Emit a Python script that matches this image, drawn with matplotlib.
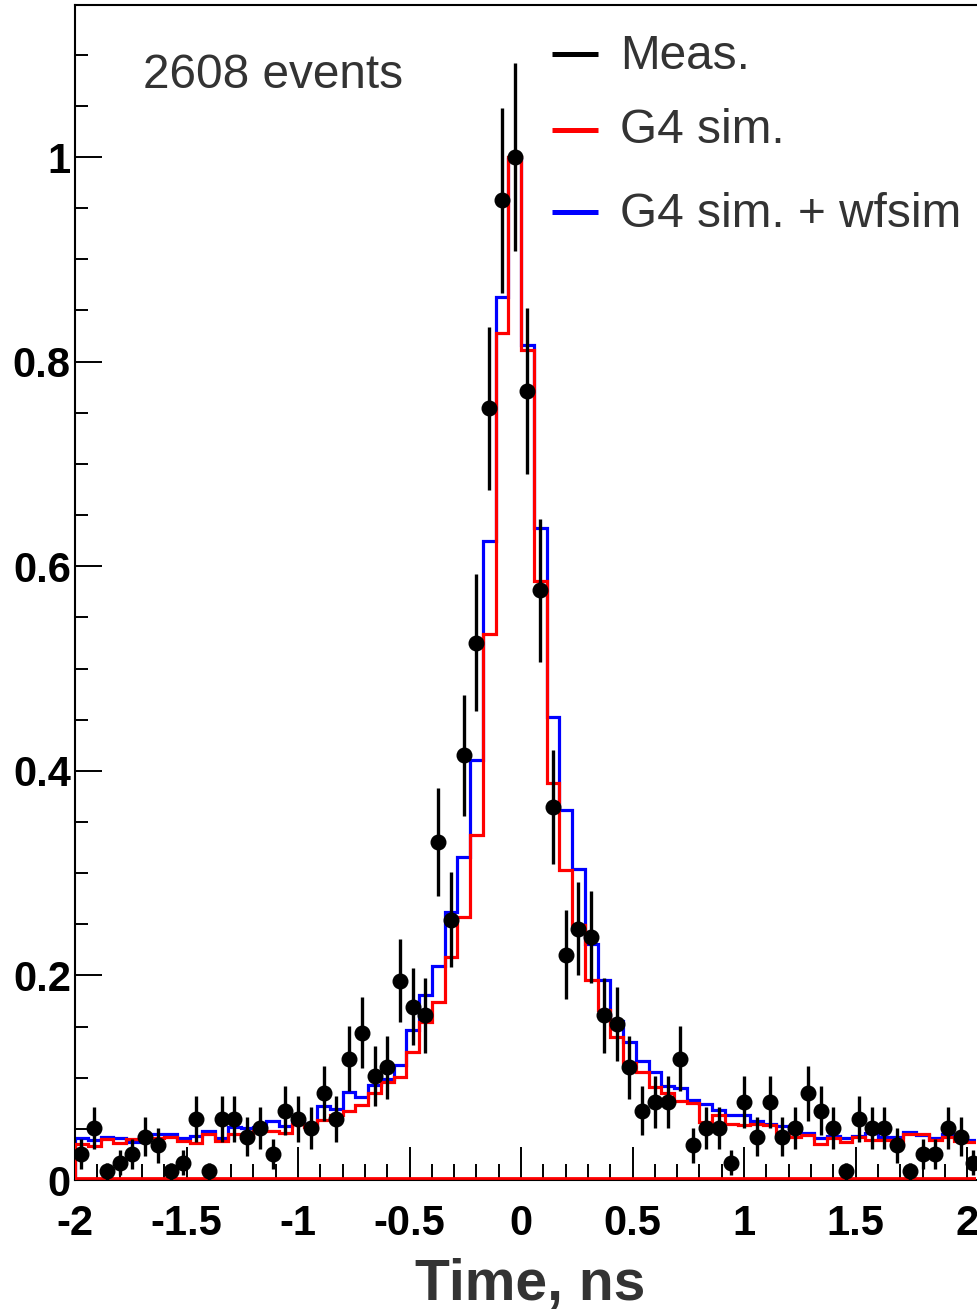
import numpy as np
import matplotlib.pyplot as plt
from matplotlib.ticker import MultipleLocator

plt.rcParams['font.family'] = ['Liberation Sans', 'DejaVu Sans']

# binning of the time histogram (ns)
t_min = -2.0
bin_w = 4.0 / 70
n_bins = 71

# measured counts per bin (normalised to the peak bin)
meas_counts = [3, 6, 1, 2, 3, 5, 4, 1, 2, 7,
               1, 7, 7, 5, 6, 3, 8, 7, 6, 10,
               7, 14, 17, 12, 13, 23, 20, 19, 39, 30,
               49, 62, 89, 113, 118, 91, 68, 43, 26, 29,
               28, 19, 18, 13, 8, 9, 9, 14, 4, 6,
               6, 2, 9, 5, 9, 5, 6, 10, 8, 6,
               1, 7, 6, 6, 4, 1, 3, 3, 6, 5,
               2]

g4_sim = [0.035, 0.033, 0.040, 0.036, 0.040, 0.041, 0.041, 0.042, 0.038, 0.036,
          0.045, 0.038, 0.045, 0.043, 0.048, 0.048, 0.046, 0.055, 0.052, 0.059,
          0.064, 0.067, 0.073, 0.085, 0.096, 0.101, 0.125, 0.154, 0.174, 0.218,
          0.257, 0.337, 0.534, 0.828, 1.000, 0.811, 0.586, 0.388, 0.303, 0.249,
          0.196, 0.166, 0.140, 0.114, 0.106, 0.091, 0.085, 0.077, 0.075, 0.057,
          0.064, 0.055, 0.054, 0.055, 0.054, 0.046, 0.042, 0.044, 0.035, 0.041,
          0.037, 0.042, 0.039, 0.039, 0.035, 0.045, 0.045, 0.039, 0.042, 0.038,
          0.037]

g4_wfsim = [0.041, 0.039, 0.042, 0.041, 0.037, 0.043, 0.045, 0.045, 0.041, 0.043,
            0.048, 0.041, 0.052, 0.051, 0.052, 0.058, 0.053, 0.058, 0.055, 0.072,
            0.069, 0.086, 0.081, 0.093, 0.099, 0.112, 0.147, 0.181, 0.209, 0.262,
            0.316, 0.411, 0.625, 0.863, 0.998, 0.816, 0.637, 0.453, 0.362, 0.304,
            0.231, 0.196, 0.155, 0.135, 0.116, 0.106, 0.092, 0.090, 0.078, 0.074,
            0.068, 0.064, 0.064, 0.058, 0.055, 0.053, 0.049, 0.046, 0.041, 0.043,
            0.041, 0.043, 0.046, 0.042, 0.042, 0.047, 0.044, 0.041, 0.045, 0.042,
            0.039]

xticks = [-2, -1.5, -1, -0.5, 0, 0.5, 1, 1.5, 2]
xtick_labels = ['-2', '-1.5', '-1', '-0.5', '0', '0.5', '1', '1.5', '2']
yticks = [0, 0.2, 0.4, 0.6, 0.8, 1.0]
ytick_labels = ['0', '0.2', '0.4', '0.6', '0.8', '1']

TXT = '#333333'

edges = t_min + bin_w * np.arange(n_bins + 1)
centers = 0.5 * (edges[:-1] + edges[1:])
counts = np.array(meas_counts, dtype=float)
norm = counts.max()
meas = counts / norm
meas_err = np.sqrt(counts) / norm

fig = plt.figure(figsize=(9.78, 13.11), dpi=100)
ax = fig.add_axes([0.0767, 0.0999, 0.9213, 0.8963])

ax.stairs(g4_wfsim, edges, color='#0000ff', linewidth=2.3, zorder=2)
ax.stairs(g4_sim, edges, color='#ff0000', linewidth=2.3, zorder=3)
ax.axhline(0.0015, color='#ff0000', linewidth=2, zorder=3)
ax.errorbar(centers, meas, yerr=meas_err, fmt='o', color='black',
            markersize=10.5, elinewidth=2.4, capsize=0, zorder=4)

ax.set_xlim(-2.0, 2.04)
ax.set_ylim(0, 1.1486)

ax.set_xticks(xticks)
ax.set_xticklabels(xtick_labels)
ax.set_yticks(yticks)
ax.set_yticklabels(ytick_labels)
ax.xaxis.set_minor_locator(MultipleLocator(0.1))
ax.yaxis.set_minor_locator(MultipleLocator(0.05))
ax.tick_params(axis='x', which='major', direction='in', length=24, width=1.4,
               labelsize=30, pad=17)
ax.tick_params(axis='x', which='minor', direction='in', length=11.5, width=1.4)
ax.tick_params(axis='y', which='major', direction='in', length=19.5, width=1.4,
               labelsize=30, pad=3)
ax.tick_params(axis='y', which='minor', direction='in', length=9.5, width=1.4)
for lab in ax.get_xticklabels() + ax.get_yticklabels():
    lab.set_fontweight('bold')

for side in ['left', 'top', 'bottom']:
    ax.spines[side].set_linewidth(1.5)
ax.spines['right'].set_visible(False)

ax.set_xlabel('Time, ns', fontsize=41, fontweight='bold', color=TXT)
ax.xaxis.set_label_coords(0.505, -0.066)

ax.text(0.0755, 0.940, '2608 events', transform=ax.transAxes,
        fontsize=34.4, color=TXT, ha='left', va='center')

# legend drawn by hand to match the uneven row spacing
legend_rows = [('Meas.', 'black', 0.958, 0.956),
               ('G4 sim.', '#ff0000', 0.894, 0.893),
               ('G4 sim. + wfsim', '#0000ff', 0.824, 0.822)]
for label, col, y_line, y_txt in legend_rows:
    ax.plot([0.529, 0.580], [y_line, y_line], transform=ax.transAxes, color=col,
            linewidth=3.6, solid_capstyle='butt', clip_on=False)
    ax.text(0.605, y_txt, label, transform=ax.transAxes, fontsize=34.4,
            color=TXT, ha='left', va='center')

fig.savefig('out.png', dpi=100)
